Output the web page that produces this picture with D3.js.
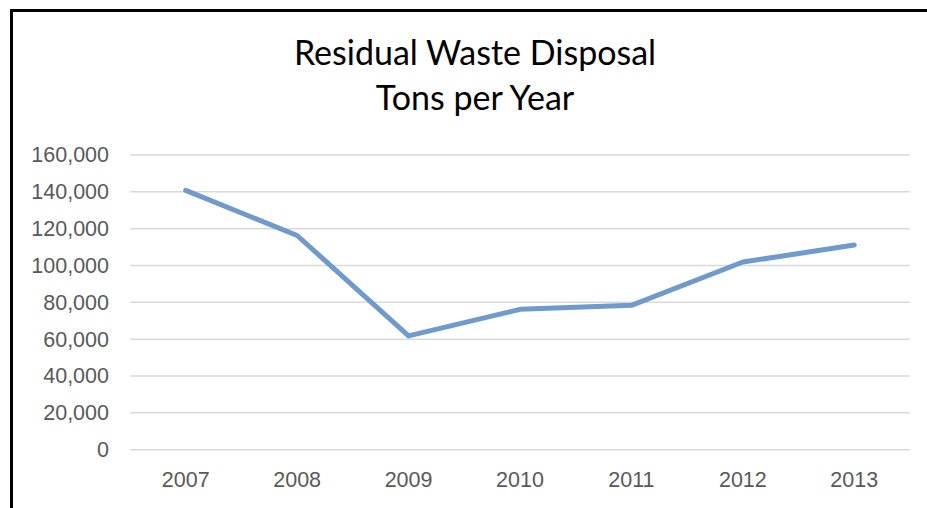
<!DOCTYPE html>
<html lang="en">
<head>
<meta charset="utf-8"/>
<title>Residual Waste Disposal</title>
<style>
  * { margin: 0; padding: 0; }
  body { background: #fff; }
  svg { display: block; font-family: Lato, "Open Sans", sans-serif; }
  text.title { font-size: 34px; fill: #000; }
  .tick text { font-size: 21.5px; fill: #595959; }
  .grid line { stroke: #d9d9d9; stroke-width: 1.5; }
</style>
<script src="https://d3js.org/d3.v7.min.js"></script>
</head>
<body>
<div id="chart"></div>
<script>
// data
const years = ['2007', '2008', '2009', '2010', '2011', '2012', '2013'];
const tons = [140800, 116300, 61800, 76200, 78400, 101900, 111100];
const yTicks = [0, 20000, 40000, 60000, 80000, 100000, 120000, 140000, 160000];
const titleLines = ['Residual Waste Disposal', 'Tons per Year'];

const W = 927, H = 508;
const plot = { left: 130, right: 910, top: 155, bottom: 449.7 };

const svg = d3.select('#chart').append('svg')
  .attr('width', W)
  .attr('height', H);

// chart frame (only top and left edges show)
svg.append('path')
  .attr('d', `M11.5,${H} V10.5 H${W}`)
  .attr('fill', 'none')
  .attr('stroke', '#000')
  .attr('stroke-width', 3);

// title
svg.append('text')
  .attr('class', 'title')
  .attr('text-anchor', 'middle')
  .selectAll('tspan')
  .data(titleLines)
  .enter()
  .append('tspan')
    .attr('x', 475)
    .attr('y', (d, i) => 65 + i * 45)
    .text(d => d);

const xScale = d3.scaleBand()
  .domain(years)
  .range([plot.left, plot.right]);

const yScale = d3.scaleLinear()
  .domain([0, 160000])
  .range([plot.bottom, plot.top]);

// gridlines
svg.append('g')
  .attr('class', 'grid')
  .selectAll('line')
  .data(yTicks)
  .enter()
  .append('line')
    .attr('x1', plot.left)
    .attr('x2', plot.right)
    .attr('y1', d => yScale(d))
    .attr('y2', d => yScale(d));

// y axis labels
const yAxis = svg.append('g')
  .attr('transform', `translate(${plot.left}, 0)`)
  .call(d3.axisLeft(yScale)
    .tickValues(yTicks)
    .tickSize(0)
    .tickPadding(21)
    .tickFormat(d3.format(',')));
yAxis.select('.domain').remove();

// x axis labels
const xAxis = svg.append('g')
  .attr('transform', `translate(0, ${plot.bottom})`)
  .call(d3.axisBottom(xScale).tickSize(0).tickPadding(22));
xAxis.select('.domain').remove();

// the line
const line = d3.line()
  .x((d, i) => xScale(years[i]) + xScale.bandwidth() / 2)
  .y(d => yScale(d));

svg.append('path')
  .attr('d', line(tons))
  .attr('fill', 'none')
  .attr('stroke', '#7099cc')
  .attr('stroke-width', 5)
  .attr('stroke-linejoin', 'round')
  .attr('stroke-linecap', 'round');
</script>
</body>
</html>
